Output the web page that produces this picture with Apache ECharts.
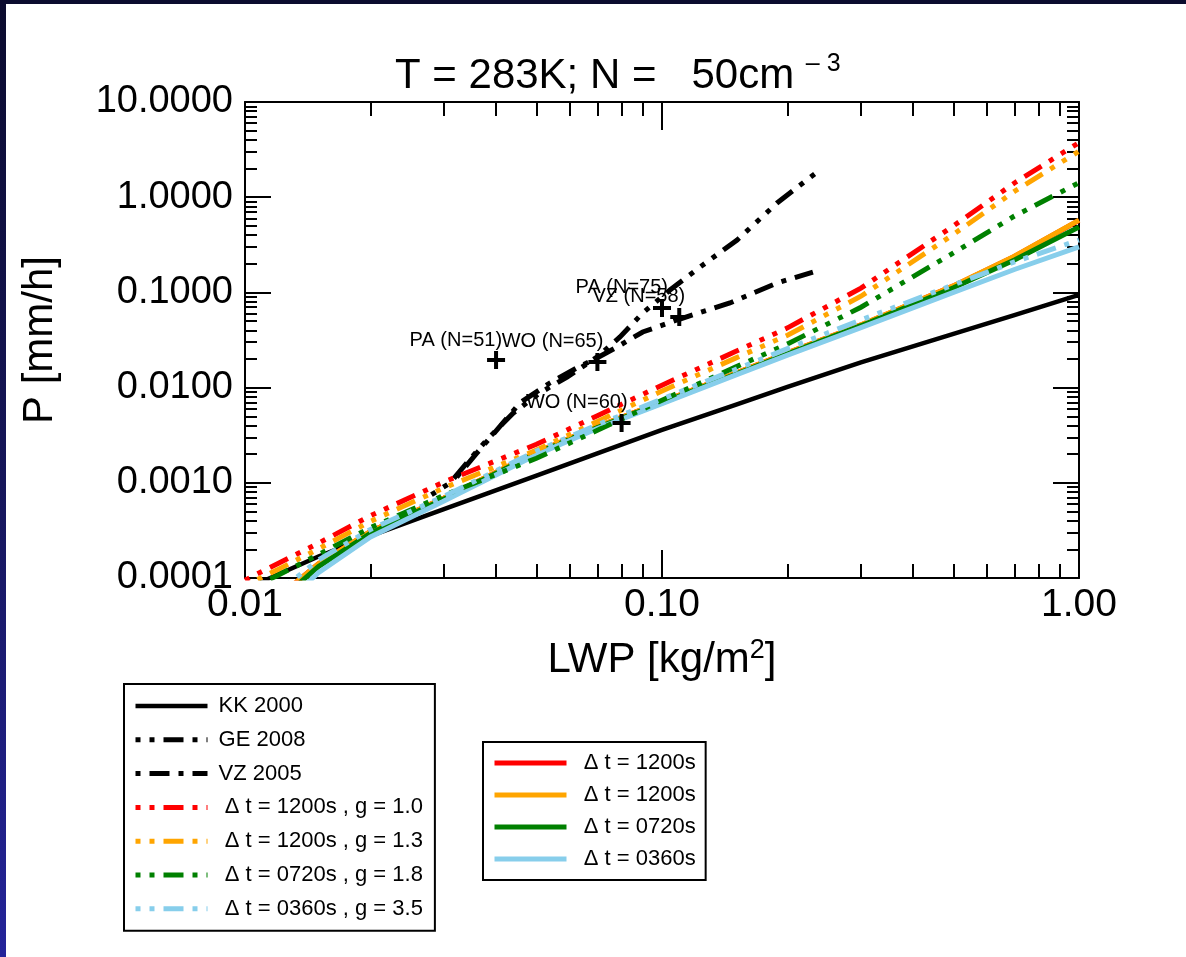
<!DOCTYPE html>
<html>
<head>
<meta charset="utf-8">
<script src="https://cdn.jsdelivr.net/npm/echarts@6/dist/echarts.min.js"></script>
<style>
  html, body { margin: 0; padding: 0; background: #fff; }
  #chart { position: absolute; left: 0; top: 0; width: 1186px; height: 957px; background: #fff; }
  #frameTop { position: absolute; left: 0; top: 0; width: 1186px; height: 4px; background: #0b0c2e; z-index: 5; }
  #frameLeft { position: absolute; left: 0; top: 0; width: 6px; height: 957px; z-index: 5;
    background: linear-gradient(#0b0b2e, #16165a 50%, #24249a); }
</style>
</head>
<body>
<div id="chart"></div>
<div id="frameTop"></div>
<div id="frameLeft"></div>
<script>
// ---------------- data ----------------
const lwp = [0.01, 0.012, 0.015, 0.02, 0.03, 0.05, 0.07, 0.1, 0.15, 0.2, 0.3, 0.5, 0.7, 1.0];

const kk2000 = [7.6e-5, 1.09e-4, 1.68e-4, 2.77e-4, 5.28e-4, 1.19e-3, 2.04e-3, 3.6e-3, 6.6e-3, 0.0102, 0.0184, 0.0366, 0.0578, 0.094];

const ddRed    = [9.5e-5, 1.42e-4, 2.32e-4, 4.52e-4, 1.02e-3, 2.54e-3, 5.06e-3, 0.0106, 0.0239, 0.0424, 0.111, 0.50, 1.41, 3.74];
const ddOrange = [8.3e-5, 1.23e-4, 2.02e-4, 3.94e-4, 8.85e-4, 2.21e-3, 4.41e-3, 9.2e-3, 0.0204, 0.0355, 0.0912, 0.407, 1.15, 3.04];
const ddGreen  = [7.3e-5, 1.07e-4, 1.76e-4, 3.38e-4, 7.4e-4, 1.81e-3, 3.56e-3, 7.36e-3, 0.0164, 0.0288, 0.0698, 0.26, 0.634, 1.42];
const ddBlue   = [3.2e-5, 7.1e-5, 1.55e-4, 3.24e-4, 7.2e-4, 2.16e-3, 4.07e-3, 7.59e-3, 0.0155, 0.0257, 0.0513, 0.120, 0.209, 0.355];

const solidRed    = [2.8e-5, 6.3e-5, 1.41e-4, 3.09e-4, 6.92e-4, 2.09e-3, 3.89e-3, 7.08e-3, 0.0141, 0.0232, 0.0455, 0.117, 0.238, 0.57];
const solidOrange = [2.8e-5, 6.3e-5, 1.41e-4, 3.09e-4, 6.92e-4, 2.09e-3, 3.89e-3, 7.08e-3, 0.0141, 0.0232, 0.0457, 0.1175, 0.240, 0.575];
const solidGreen  = [2.5e-5, 5.6e-5, 1.32e-4, 2.95e-4, 6.76e-4, 2.04e-3, 3.80e-3, 6.92e-3, 0.0138, 0.0226, 0.0447, 0.112, 0.219, 0.486];
const solidBlue   = [2.0e-5, 4.5e-5, 1.14e-4, 2.70e-4, 6.43e-4, 1.97e-3, 3.72e-3, 6.76e-3, 0.0135, 0.0219, 0.0427, 0.100, 0.174, 0.30];

const geLwp = [0.028, 0.0310, 0.0340, 0.0380, 0.0440, 0.0509, 0.0592, 0.0698, 0.0793, 0.0899, 0.1045, 0.1253, 0.1514, 0.1888, 0.2355];
const geP   = [7.5e-4, 9.95e-4, 1.61e-3, 2.82e-3, 5.41e-3, 8.77e-3, 0.0129, 0.0209, 0.0340, 0.0608, 0.106, 0.194, 0.355, 0.869, 1.84];

const vzLwp = [0.0322, 0.0360, 0.0402, 0.0456, 0.0538, 0.0625, 0.0698, 0.0780, 0.0899, 0.1086, 0.1455, 0.1888, 0.2301];
const vzP   = [1.15e-3, 2.06e-3, 3.59e-3, 6.89e-3, 0.01117, 0.0161, 0.0205, 0.0267, 0.0384, 0.0513, 0.0774, 0.1256, 0.1637];

const obsNames = ['PA (N=51)', 'WO (N=65)', 'PA (N=75)', 'VZ (N=58)', 'WO (N=60)'];
const obsLwp   = [0.04, 0.07, 0.10, 0.11, 0.08];
const obsP     = [0.0195, 0.0186, 0.0686, 0.0552, 0.00425];

const xTickLabels = ['0.01', '0.10', '1.00'];
const yTickLabels = ['0.0001', '0.0010', '0.0100', '0.1000', '1.0000', '10.0000'];

const minorMult = [2, 3, 4, 5, 6, 7, 8, 9];
const xDecades = [0.01, 0.1];
const yDecades = [0.0001, 0.001, 0.01, 0.1, 1];

const legend1Names = ['KK 2000', 'GE 2008', 'VZ 2005',
  'Δ t = 1200s , g = 1.0', 'Δ t = 1200s , g = 1.3', 'Δ t = 0720s , g = 1.8', 'Δ t = 0360s , g = 3.5'];
const legend2Names = ['Δ t = 1200s', 'Δ t = 1200s\u2009', 'Δ t = 0720s', 'Δ t = 0360s'];

// ---------------- build ----------------
const FONT = '"Liberation Sans", Arial, Helvetica, sans-serif';
const pair = (xs, ys) => xs.map((x, i) => [x, ys[i]]);
const xMinor = xDecades.flatMap(d => minorMult.map(m => Math.log10(m * d)));
const yMinor = yDecades.flatMap(d => minorMult.map(m => Math.log10(m * d)));

const DDD = [20, 9, 5, 9, 5, 9, 5, 9];   // dash dot dot dot
const DD = [20, 9, 5, 9];                // dash dot

function lineSeries(name, xs, ys, color, width, type, offset) {
  return {
    name: name, type: 'line', data: pair(xs, ys),
    xAxisIndex: 0, yAxisIndex: 0,
    symbol: 'none', showSymbol: false, smooth: false, clip: true, silent: true,
    lineStyle: { color: color, width: width, type: type || 'solid', dashOffset: offset || 0, cap: 'butt', join: 'miter', opacity: 1 },
    itemStyle: { color: color },
    emphasis: { disabled: true }
  };
}

const blackAxis = { color: '#000', width: 2 };
function logXAxis(pos, labels) {
  return {
    type: 'log', logBase: 10, min: 0.01, max: 1, position: pos,
    axisLine: { show: true, onZero: false, lineStyle: blackAxis },
    axisTick: { show: true, inside: true, length: 28, lineStyle: blackAxis },
    axisLabel: labels ? {
      show: true, margin: 8, color: '#000', fontSize: 39, fontFamily: FONT,
      formatter: v => xTickLabels[Math.round(Math.log10(v)) + 2]
    } : { show: false },
    splitLine: { show: false }, minorTick: { show: false }
  };
}
function minorXAxis(pos) {
  return {
    type: 'value', min: -2, max: 0, position: pos,
    axisLine: { show: false, onZero: false },
    axisTick: { show: true, inside: true, length: 14, customValues: xMinor, lineStyle: blackAxis },
    axisLabel: { show: false }, splitLine: { show: false }
  };
}
function logYAxis(pos, labels) {
  return {
    type: 'log', logBase: 10, min: 0.0001, max: 10, position: pos,
    axisLine: { show: true, onZero: false, lineStyle: blackAxis },
    axisTick: { show: true, inside: true, length: 26, lineStyle: blackAxis },
    axisLabel: labels ? {
      show: true, margin: 12, color: '#000', fontSize: 38, fontFamily: FONT,
      formatter: v => yTickLabels[Math.round(Math.log10(v)) + 4]
    } : { show: false },
    splitLine: { show: false }, minorTick: { show: false }
  };
}
function minorYAxis(pos) {
  return {
    type: 'value', min: -4, max: 1, position: pos,
    axisLine: { show: false, onZero: false },
    axisTick: { show: true, inside: true, length: 12, customValues: yMinor, lineStyle: blackAxis },
    axisLabel: { show: false }, splitLine: { show: false }
  };
}

const xMain = logXAxis('bottom', true);
xMain.name = 'LWP [kg/m{sup|2}]';
xMain.nameLocation = 'middle';
xMain.nameGap = 59;
xMain.nameTextStyle = {
  color: '#000', fontSize: 42, fontFamily: FONT, lineHeight: 46,
  rich: { sup: { fontSize: 27, lineHeight: 20, verticalAlign: 'top', color: '#000', fontFamily: FONT } }
};
const yMain = logYAxis('left', true);
yMain.name = 'P [mm/h]';
yMain.nameLocation = 'middle';
yMain.nameGap = 184;
yMain.nameTextStyle = { color: '#000', fontSize: 42, fontFamily: FONT };

const series = [
  lineSeries(legend1Names[0], lwp, kk2000, '#000000', 4.5),
  lineSeries(legend1Names[1], geLwp, geP, '#000000', 5, DDD, 43),
  lineSeries(legend1Names[2], vzLwp, vzP, '#000000', 5, DD, 29),
  lineSeries(legend2Names[0], lwp, solidRed, '#ff0000', 5),
  lineSeries(legend2Names[1], lwp, solidOrange, '#ffa500', 5),
  lineSeries(legend2Names[2], lwp, solidGreen, '#008000', 5),
  lineSeries(legend2Names[3], lwp, solidBlue, '#87ceeb', 5),
  lineSeries(legend1Names[3], lwp, ddRed, '#ff0000', 5, DDD, 43),
  lineSeries(legend1Names[4], lwp, ddOrange, '#ffa500', 5, DDD, 43),
  lineSeries(legend1Names[5], lwp, ddGreen, '#008000', 5, DDD, 43),
  lineSeries(legend1Names[6], lwp, ddBlue, '#87ceeb', 5, DDD, 43),
  {
    name: 'obs', type: 'scatter', xAxisIndex: 0, yAxisIndex: 0, silent: true,
    symbol: 'path://M7,0h4v7h7v4h-7v7h-4v-7h-7v-4h7z', symbolSize: 18,
    itemStyle: { color: '#000', opacity: 1 },
    data: obsNames.map((n, i) => ({ name: n, value: [obsLwp[i], obsP[i]] })),
    label: { show: true, formatter: '{b}', position: 'top', align: 'right', offset: [6, 4],
      color: '#000', opacity: 1, fontSize: 20, fontFamily: FONT },
    emphasis: { disabled: true }, z: 5
  }
];

const legendCommon = {
  orient: 'vertical', itemWidth: 72, itemHeight: 14, selectedMode: false,
  borderColor: '#000', borderWidth: 2, backgroundColor: '#fff',
  textStyle: { color: '#000', fontSize: 22, lineHeight: 22, fontFamily: FONT },
  lineStyle: { width: 'inherit' },
  itemStyle: { opacity: 0 }
};

const option = {
  animation: false,
  backgroundColor: '#fff',
  title: [{
    text: 'T = 283K; N =   50cm {sup|– 3}',
    left: 390, top: 47, padding: 5,
    textStyle: {
      color: '#000', fontSize: 42, fontWeight: 'normal', fontFamily: FONT, lineHeight: 48,
      rich: { sup: { fontSize: 25, lineHeight: 12, verticalAlign: 'top', color: '#000', fontFamily: FONT } }
    }
  }],
  grid: { left: 245, right: 107, top: 102, bottom: 379, containLabel: false, outerBoundsMode: 'none' },
  xAxis: [xMain, logXAxis('top', false), minorXAxis('bottom'), minorXAxis('top')],
  yAxis: [yMain, logYAxis('right', false), minorYAxis('left'), minorYAxis('right')],
  legend: [
    Object.assign({}, legendCommon, {
      left: 124, top: 684, padding: [11, 12, 11, 9], itemGap: 11.8,
      data: legend1Names,
      formatter: n => (n.startsWith('Δ') ? '  ' : ' ') + n.trim()
    }),
    Object.assign({}, legendCommon, {
      left: 483, top: 742, padding: [10, 10, 10, 9], itemGap: 10,
      data: legend2Names,
      formatter: n => '  ' + n.trim()
    })
  ],
  series: series
};

const chart = echarts.init(document.getElementById('chart'), null, { renderer: 'canvas', width: 1186, height: 957 });
chart.setOption(option);
</script>
</body>
</html>
